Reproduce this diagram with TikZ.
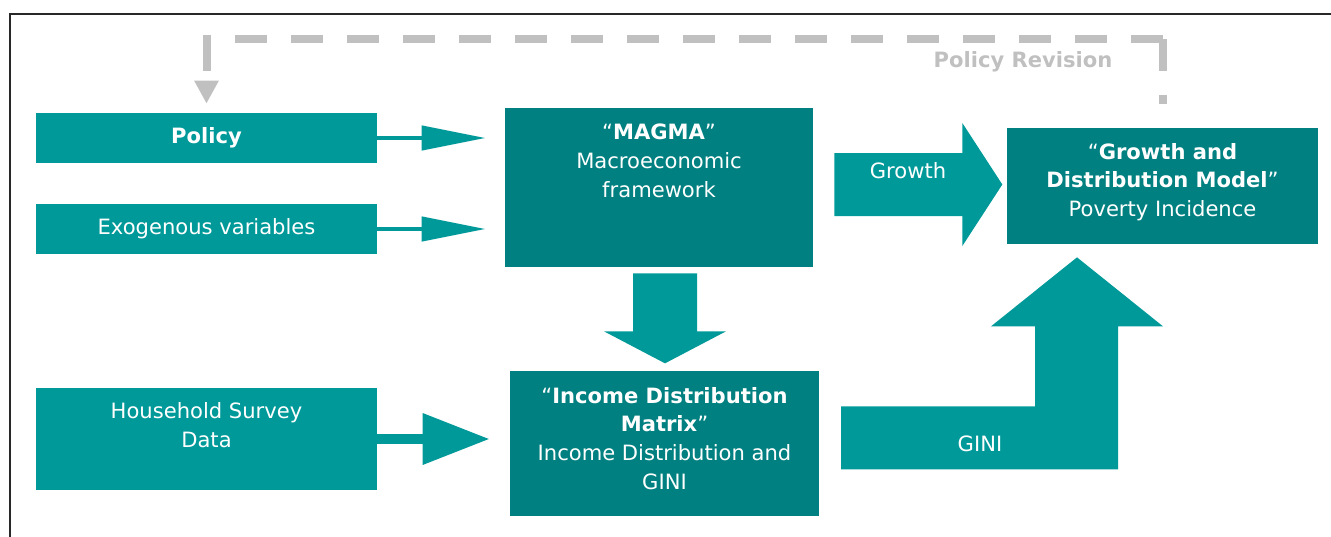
\documentclass[tikz,border=0pt]{standalone}
\usepackage{fontspec}
\setmainfont{DejaVu Sans}
\usepackage{tikz}
\usetikzlibrary{arrows.meta}

\definecolor{tealA}{RGB}{0,153,153}
\definecolor{tealB}{RGB}{0,128,128}
\definecolor{revgray}{RGB}{192,192,192}
\definecolor{framegray}{RGB}{40,40,40}

\begin{document}
\begin{tikzpicture}[x=0.02cm,y=-0.02cm]
        \tikzstyle{every node} = [rectangle, text=white, align=center, inner sep=0pt,
                                  font=\fontsize{12}{16.4}\selectfont]
        \tikzstyle{inbox} = [fill=tealA, minimum width=6.82cm]
        \tikzstyle{model} = [fill=tealB]
        \tikzset{thin arrow/.style={draw=tealA, line width=0.09cm,
                   -{Triangle[length=1.28cm, width=0.48cm]}, shorten >=0.38cm},
                 wide arrow/.style={draw=tealA, line width=0.2cm,
                   -{Triangle[length=1.34cm, width=0.98cm]}, shorten >=0.4cm},
                 revline/.style={revgray, line width=0.16cm, line cap=rect,
                   dash pattern=on 0.48cm off 0.64cm, dash phase=1.04cm}}
        \useasboundingbox (0,0) rectangle (1331,537);

        % frame
        \draw[framegray, line width=0.04cm] (10,537) -- (10,14) -- (1331,14);

        % inputs
        \node[inbox, minimum height=1cm] (policy) at (206.5,138) {\textbf{Policy}};
        \node[inbox, minimum height=1cm] (exo) at (206.5,229) {Exogenous variables};
        \node[inbox, minimum height=2.06cm,
              label={[yshift=0.28cm]center:{Household Survey\\Data}}] (survey) at (206.5,439) {};

        % models
        \node[model, minimum width=6.16cm, minimum height=3.18cm,
              label={[anchor=north, yshift=-0.32cm]north:{“\textbf{MAGMA}”\\Macroeconomic\\framework}}]
              (magma) at (659,187.5) {};
        \node[model, minimum width=6.18cm, minimum height=2.9cm,
              label={[yshift=0.1cm]center:{“\textbf{Income Distribution}\\\textbf{Matrix}”\\Income Distribution and\\GINI}}]
              (income) at (664.5,443.5) {};
        \node[model, minimum width=6.22cm, minimum height=2.32cm,
              label={[yshift=0.08cm]center:{“\textbf{Growth and}\\\textbf{Distribution Model}”\\Poverty Incidence}}]
              (gdm) at (1162.5,186) {};

        \foreach \from/\to in {policy/magma, exo/magma}
            \draw[thin arrow] (\from.east) -- (\from.east -| \to.west);
        \draw[wide arrow] (survey.east) -- (survey.east -| income.west);

        % block arrows
        \fill[tealA] ([shift={(-26,6)}]magma.south) -- ++(64,0) -- ++(0,58) -- ++(29,0)
              -- ++(-61,32) -- ++(-61,-32) -- ++(29,0) -- cycle;
        \fill[tealA] ([shift={(21,-34.5)}]magma.east) -- ++(128,0) -- ++(0,-30) -- ++(40,61.5)
              -- ++(-40,61.5) -- ++(0,-30) -- ++(-128,0) -- cycle;
        \fill[tealA] ([shift={(-85.5,13)}]gdm.south) -- ++(86,69) -- ++(-45,0) -- ++(0,143)
              -- ++(-277,0) -- ++(0,-63) -- ++(194,0) -- ++(0,-80) -- ++(-44,0) -- cycle;
        \node (growth) at (908,171) {Growth};
        \node (gini) at (980,444) {GINI};

        % revision loop, each leg dashed from its corner
        \coordinate (turnR) at ([shift={(0,-89)}]gdm.north);
        \coordinate (turnL) at (policy.north |- turnR);
        \draw[revline] (turnR) -- ([shift={(0,-28)}]gdm.north);
        \draw[revline] (turnR) -- (turnL);
        \draw[revline, -{Triangle[length=0.46cm, width=0.46cm]}]
              (turnL) -- ([shift={(0,-9)}]policy.north);
        \node[text=revgray, font=\fontsize{12}{14}\selectfont\bfseries] (revision) at (1023,62) {Policy Revision};
      \end{tikzpicture}
\end{document}
